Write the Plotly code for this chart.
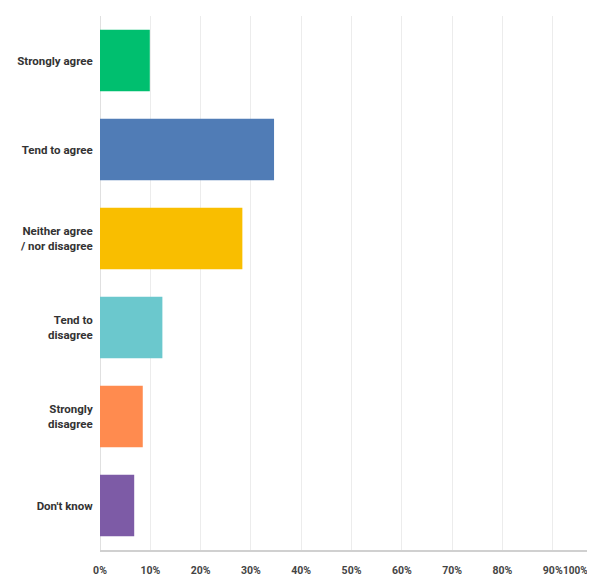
import plotly.graph_objects as go

categories = ["Strongly agree", "Tend to agree", "Neither agree<br>/ nor disagree",
              "Tend to<br>disagree", "Strongly<br>disagree", "Don't know"]
values = [9.9, 34.6, 28.3, 12.4, 8.5, 6.8]
colors = ["#00BF6F", "#507CB6", "#F9BE00", "#6BC8CD", "#FF8B4F", "#7D5BA6"]
tick_vals = [0, 10, 20, 30, 40, 50, 60, 70, 80, 90]
tick_text = ["0%", "10%", "20%", "30%", "40%", "50%", "60%", "70%", "80%", "90%"]
last_tick_text = "100%"

font_family = "Roboto, Arial, sans-serif"

fig = go.Figure(go.Bar(
    x=values, y=categories, orientation="h",
    marker=dict(color=colors, line=dict(width=0)),
    hoverinfo="skip",
))

fig.update_layout(
    width=595, height=582,
    margin=dict(l=92, r=8, t=8, b=40, autoexpand=False),
    paper_bgcolor="white", plot_bgcolor="white",
    bargap=0.31,
    showlegend=False,
    font=dict(family=font_family, size=11, color="#333333"),
)
fig.update_xaxes(
    range=[0, 98.4], tickvals=tick_vals, ticktext=tick_text,
    showgrid=True, gridcolor="#ececec", gridwidth=1,
    zeroline=True, zerolinecolor="#e0e0e0", zerolinewidth=1,
    showline=True, linecolor="#d0d0d0", linewidth=2,
    ticks="outside", ticklen=9, tickcolor="rgba(0,0,0,0)",
    tickfont=dict(family=font_family, size=10.5, color="#444444", weight="bold"),
    automargin=False,
)
fig.update_yaxes(
    categoryorder="array", categoryarray=categories, autorange="reversed",
    showgrid=False, zeroline=False, showline=False,
    ticks="outside", ticklen=4, tickcolor="rgba(0,0,0,0)",
    tickfont=dict(family=font_family, size=11.5, color="#333333", weight="bold"),
    automargin=False,
)
fig.add_annotation(x=1, y=-0.024, xref="paper", yref="paper",
                   xanchor="right", yanchor="top", xshift=-5,
                   text=last_tick_text, showarrow=False,
                   font=dict(family=font_family, size=10, color="#444444", weight="bold"))

fig.write_html("out.html")
